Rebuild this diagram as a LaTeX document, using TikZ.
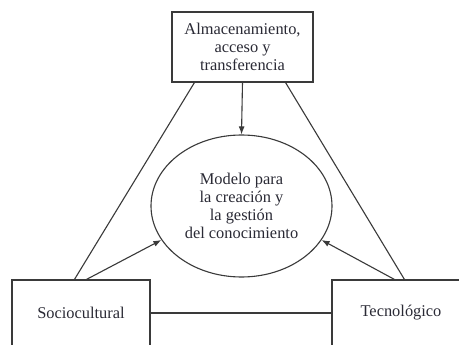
\documentclass[tikz,border=0pt]{standalone}
\usepackage{fontspec}
\setmainfont{Liberation Serif}
\usetikzlibrary{shapes.geometric,arrows.meta,calc}
\definecolor{ln}{HTML}{3A3A3A}
\definecolor{tx}{HTML}{2A2A35}
\begin{document}
\begin{tikzpicture}[x=1pt,y=-1pt,
  every node/.style={text=tx,font=\fontsize{16.4}{18}\selectfont},
  box/.style={draw=ln,line width=1.1pt,rectangle,inner sep=0pt,align=center},
  conn/.style={draw=ln,line width=1.1pt},
  arr/.style={conn,-{Latex[length=8pt,width=6pt]}}]
\clip (0,0) rectangle (459,345);
\fill[white] (0,0) rectangle (459,345);
\node[box,minimum width=141pt,minimum height=70pt] (top) at (242.5,47) {Almacenamiento,\\acceso y\\transferencia};
\node[draw=ln,line width=1.1pt,ellipse,inner sep=0pt,minimum width=181pt,minimum height=142pt,align=center] (mod) at (241.5,206) {Modelo para\\la creación y\\la gestión\\del conocimiento};
\node[box,minimum width=138pt,minimum height=66pt] (soc) at (81,313) {Sociocultural};
\node[box,minimum width=138pt,minimum height=66pt] (tec) at (401,313) {Tecnológico};
\draw[conn] ([xshift=23pt]top.south west) -- ([xshift=63pt]soc.north west);
\draw[conn] ([xshift=-28pt]top.south east) -- ([xshift=73pt]tec.north west);
\draw[arr] (top.south) -- (mod.north);
\draw[arr] ([xshift=75pt]soc.north west) -- (mod.203);
\draw[arr] ([xshift=63pt]tec.north west) -- (mod.-23);
\draw[conn] (soc.east) -- (tec.west);
\end{tikzpicture}
\end{document}
